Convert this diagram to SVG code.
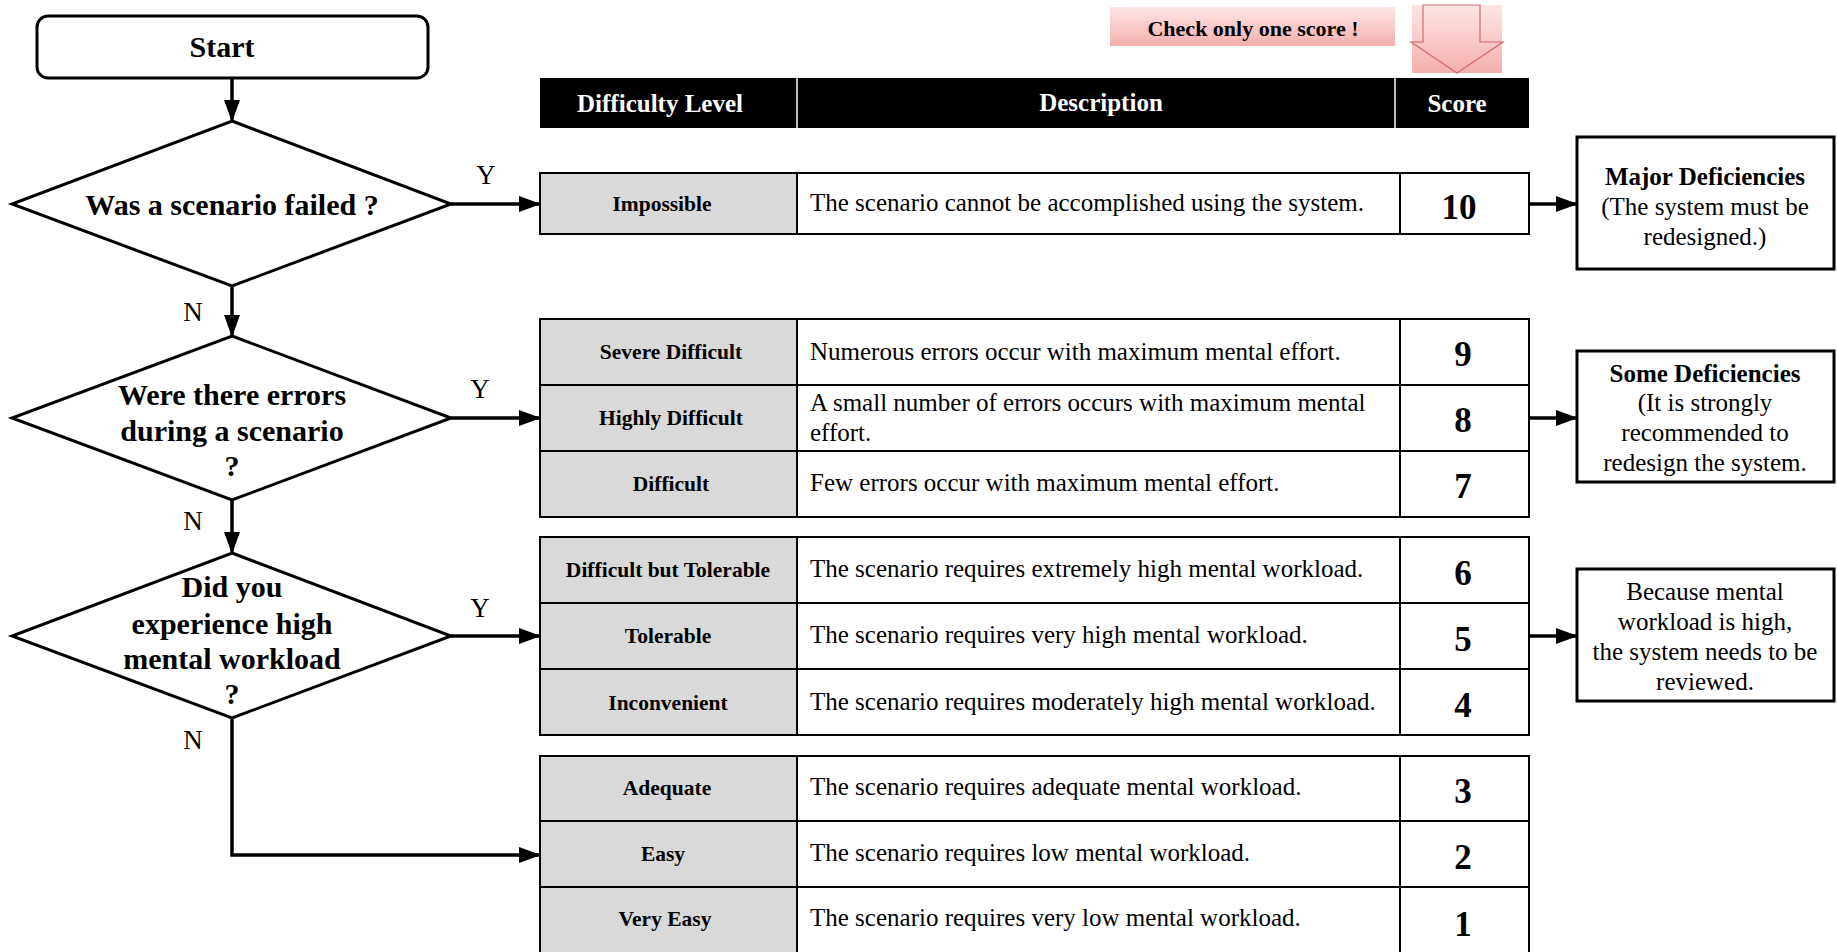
<svg xmlns="http://www.w3.org/2000/svg" width="1837" height="952" viewBox="0 0 1837 952">
<defs>
<linearGradient id="pink" x1="0" y1="0" x2="0" y2="1">
<stop offset="0" stop-color="#fde6e6"/>
<stop offset="1" stop-color="#f6aeae"/>
</linearGradient>
<marker id="ah" markerUnits="userSpaceOnUse" markerWidth="22" markerHeight="16" refX="21" refY="8" orient="auto">
<path d="M0,0 L22,8 L0,16 z" fill="#000"/>
</marker>
<style>
text{font-family:"Liberation Serif","Times New Roman",serif;fill:#000}
.b{font-weight:bold}
.q{font-size:30px;font-weight:bold;text-anchor:middle}
.yn{font-size:27px}
.hd{font-size:25px;font-weight:bold;fill:#fff;text-anchor:middle}
.lb{font-size:21.5px;font-weight:bold;text-anchor:middle}
.ds{font-size:25px}
.sc{font-size:35px;font-weight:bold;text-anchor:middle}
.rt{font-size:25px;text-anchor:middle}
.shape{fill:#fff;stroke:#000;stroke-width:3}
.lab{fill:#d9d9d9}
.grid{fill:none;stroke:#000;stroke-width:2}
.conn{fill:none;stroke:#000;stroke-width:3.5;marker-end:url(#ah)}
</style>
</defs>
<rect width="1837" height="952" fill="#fff"/>

<g id="note">
<rect x="1110" y="7" width="285" height="39" fill="url(#pink)"/>
<text x="1253" y="36" class="b" font-size="22" text-anchor="middle">Check only one score !</text>
<rect x="1412" y="5" width="90" height="68" fill="url(#pink)"/>
<polygon points="1423,5 1480,5 1480,42 1503,42 1457,73 1411,42 1423,42" fill="none" stroke="#d46a6a" stroke-width="1.2"/>
</g>

<g id="start">
<rect x="37" y="16" width="391" height="62" rx="11" class="shape"/>
<text x="222" y="57" class="q">Start</text>
</g>

<g id="q1">
<polygon points="232,121 451,204 232,286 12,204" class="shape"/>
<text x="232" y="215" class="q">Was a scenario failed ?</text>
</g>
<g id="q2">
<polygon points="232,336 451,418 232,500 12,418" class="shape"/>
<text x="232" y="405" class="q">Were there errors</text>
<text x="232" y="441" class="q">during a scenario</text>
<text x="232" y="476" class="q">?</text>
</g>
<g id="q3">
<polygon points="232,553 451,636 232,718 12,636" class="shape"/>
<text x="232" y="597" class="q">Did you</text>
<text x="232" y="634" class="q">experience high</text>
<text x="232" y="669" class="q">mental workload</text>
<text x="232" y="704" class="q">?</text>
</g>

<g id="labels">
<text x="486" y="184" class="yn" text-anchor="middle">Y</text>
<text x="480" y="398" class="yn" text-anchor="middle">Y</text>
<text x="480" y="617" class="yn" text-anchor="middle">Y</text>
<text x="193" y="321" class="yn" text-anchor="middle">N</text>
<text x="193" y="530" class="yn" text-anchor="middle">N</text>
<text x="193" y="749" class="yn" text-anchor="middle">N</text>
</g>

<g id="header">
<rect x="540" y="78" width="989" height="50" fill="#000"/>
<line x1="797" y1="78" x2="797" y2="128" stroke="#fff" stroke-width="1.5"/>
<line x1="1395" y1="78" x2="1395" y2="128" stroke="#fff" stroke-width="1.5"/>
<text x="660" y="112" class="hd">Difficulty Level</text>
<text x="1101" y="111" class="hd">Description</text>
<text x="1457" y="112" class="hd">Score</text>
</g>

<g id="group10">
<rect x="540" y="173" width="257" height="61" class="lab"/>
<rect x="540" y="173" width="989" height="61" class="grid"/>
<line x1="797" y1="173" x2="797" y2="234" class="grid"/>
<line x1="1400" y1="173" x2="1400" y2="234" class="grid"/>
<text x="662" y="211" class="lb">Impossible</text>
<text x="810" y="211" class="ds">The scenario cannot be accomplished using the system.</text>
<text x="1459" y="219" class="sc">10</text>
</g>

<g id="group987">
<rect x="540" y="319" width="257" height="198" class="lab"/>
<rect x="540" y="319" width="989" height="198" class="grid"/>
<line x1="797" y1="319" x2="797" y2="517" class="grid"/>
<line x1="1400" y1="319" x2="1400" y2="517" class="grid"/>
<line x1="540" y1="385" x2="1529" y2="385" class="grid"/>
<line x1="540" y1="451" x2="1529" y2="451" class="grid"/>
<text x="671" y="359" class="lb">Severe Difficult</text>
<text x="810" y="360" class="ds">Numerous errors occur with maximum mental effort.</text>
<text x="1463" y="366" class="sc">9</text>
<text x="671" y="425" class="lb">Highly Difficult</text>
<text x="810" y="411" class="ds">A small number of errors occurs with maximum mental</text>
<text x="810" y="441" class="ds">effort.</text>
<text x="1463" y="432" class="sc">8</text>
<text x="671" y="491" class="lb">Difficult</text>
<text x="810" y="491" class="ds">Few errors occur with maximum mental effort.</text>
<text x="1463" y="498" class="sc">7</text>
</g>

<g id="group654">
<rect x="540" y="537" width="257" height="198" class="lab"/>
<rect x="540" y="537" width="989" height="198" class="grid"/>
<line x1="797" y1="537" x2="797" y2="735" class="grid"/>
<line x1="1400" y1="537" x2="1400" y2="735" class="grid"/>
<line x1="540" y1="603" x2="1529" y2="603" class="grid"/>
<line x1="540" y1="669" x2="1529" y2="669" class="grid"/>
<text x="668" y="577" class="lb">Difficult but Tolerable</text>
<text x="810" y="577" class="ds">The scenario requires extremely high mental workload.</text>
<text x="1463" y="585" class="sc">6</text>
<text x="668" y="643" class="lb">Tolerable</text>
<text x="810" y="643" class="ds">The scenario requires very high mental workload.</text>
<text x="1463" y="651" class="sc">5</text>
<text x="668" y="710" class="lb">Inconvenient</text>
<text x="810" y="710" class="ds">The scenario requires moderately high mental workload.</text>
<text x="1463" y="717" class="sc">4</text>
</g>

<g id="group321">
<rect x="540" y="756" width="257" height="196" class="lab"/>
<rect x="540" y="756" width="989" height="200" class="grid"/>
<line x1="797" y1="756" x2="797" y2="952" class="grid"/>
<line x1="1400" y1="756" x2="1400" y2="952" class="grid"/>
<line x1="540" y1="821" x2="1529" y2="821" class="grid"/>
<line x1="540" y1="887" x2="1529" y2="887" class="grid"/>
<text x="667" y="795" class="lb">Adequate</text>
<text x="810" y="795" class="ds">The scenario requires adequate mental workload.</text>
<text x="1463" y="803" class="sc">3</text>
<text x="663" y="861" class="lb">Easy</text>
<text x="810" y="861" class="ds">The scenario requires low mental workload.</text>
<text x="1463" y="869" class="sc">2</text>
<text x="665" y="926" class="lb">Very Easy</text>
<text x="810" y="926" class="ds">The scenario requires very low mental workload.</text>
<text x="1463" y="936" class="sc">1</text>
</g>

<g id="major">
<rect x="1577" y="137" width="257" height="132" class="shape"/>
<text x="1705" y="185" class="rt b">Major Deficiencies</text>
<text x="1705" y="215" class="rt">(The system must be</text>
<text x="1705" y="245" class="rt">redesigned.)</text>
</g>
<g id="some">
<rect x="1577" y="351" width="257" height="131" class="shape"/>
<text x="1705" y="382" class="rt b">Some Deficiencies</text>
<text x="1705" y="411" class="rt">(It is strongly</text>
<text x="1705" y="441" class="rt">recommended to</text>
<text x="1705" y="471" class="rt">redesign the system.</text>
</g>
<g id="review">
<rect x="1577" y="569" width="257" height="132" class="shape"/>
<text x="1705" y="600" class="rt">Because mental</text>
<text x="1705" y="630" class="rt">workload is high,</text>
<text x="1705" y="660" class="rt">the system needs to be</text>
<text x="1705" y="690" class="rt">reviewed.</text>
</g>

<g id="connectors">
<path d="M232,78 V121" class="conn"/>
<path d="M232,286 V336" class="conn"/>
<path d="M232,500 V553" class="conn"/>
<path d="M232,718 V855 H540" class="conn"/>
<path d="M451,204 H540" class="conn"/>
<path d="M451,418 H540" class="conn"/>
<path d="M451,636 H540" class="conn"/>
<path d="M1529,204 H1577" class="conn"/>
<path d="M1529,418 H1577" class="conn"/>
<path d="M1529,636 H1577" class="conn"/>
</g>
</svg>
